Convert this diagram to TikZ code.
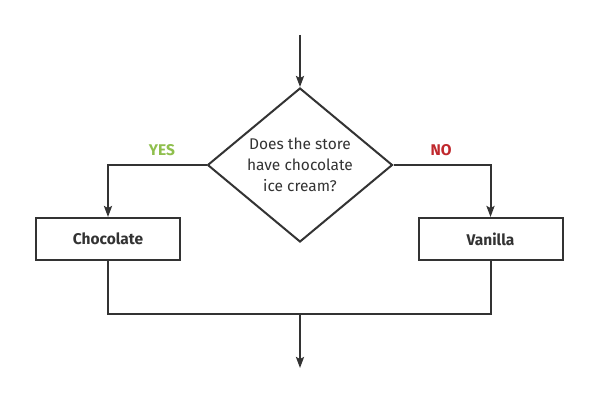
\documentclass[tikz,border=0pt]{standalone}
\usepackage{fontspec}
\setmainfont{Fira Sans}
\usetikzlibrary{shapes.geometric,arrows.meta}

\definecolor{yesgreen}{HTML}{8FBF4D}
\definecolor{nored}{HTML}{C0282D}
\definecolor{ink}{HTML}{333333}

\newcommand{\chartfont}{\fontsize{15.5}{21}\selectfont}

\tikzstyle{line} = [ink, line width=2pt]
\tikzstyle{arw} = [line, -{Stealth[length=11pt,width=8pt,inset=2pt]}]
\tikzstyle{choice} = [diamond, draw=ink, line width=2pt, minimum width=185pt, minimum height=154pt, inner sep=-6pt, align=center, text=ink, font=\chartfont]
\tikzstyle{result} = [rectangle, draw=ink, line width=2pt, minimum width=144pt, minimum height=42pt, text=ink, font=\chartfont\bfseries]
\tikzstyle{answer} = [font=\chartfont\bfseries]

\begin{document}
\begin{tikzpicture}[x=1pt, y=1pt]

    \fill[white] (0,0) rectangle (600,400);
    \useasboundingbox (0,0) rectangle (600,400);

    \coordinate (start) at (300,365);
    \node[choice] (q) at (300,235) {Does the store\\have chocolate\\ice cream?};
    \node[result] (choc) at (108,161) {Chocolate};
    \node[result] (van) at (490.5,161) {Vanilla};
    \coordinate (join) at (300,86);
    \coordinate (stop) at (300,32);

    \draw[arw] (start) -- (q.north);
    \draw[arw] (q.west) -| (choc.north);
    \draw[arw] (q.east) -| (van.north);
    \draw[line] (choc.south) |- (join) -| (van.south);
    \draw[arw] (join) -- (stop);

\node[answer, text=yesgreen] (yes) at (162,250) {YES};
\node[answer, text=nored] (no) at (441,250) {NO};

\end{tikzpicture}
\end{document}
